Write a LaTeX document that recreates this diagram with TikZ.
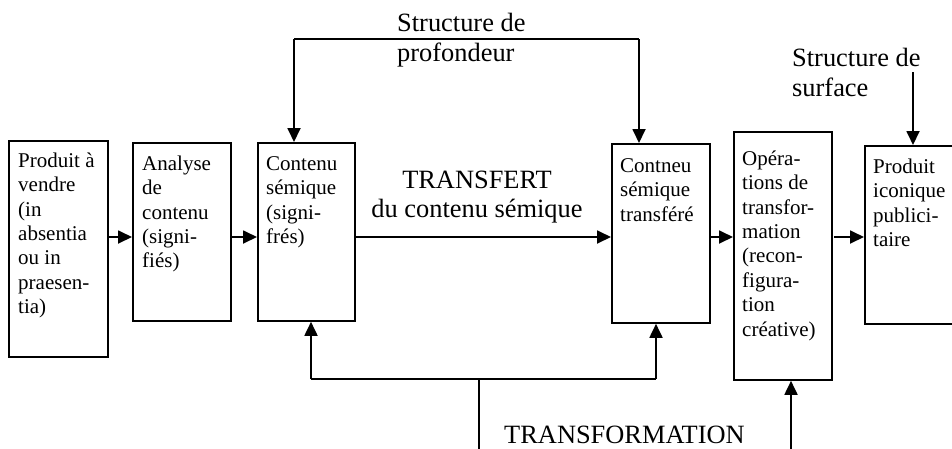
\documentclass[tikz,border=0pt]{standalone}
\usepackage{fontspec}
\setmainfont{Liberation Serif}
\usetikzlibrary{arrows.meta}
\newcommand\bfl{\rule{0pt}{16pt}}
\newcommand\lfl{\rule{0pt}{20pt}}
\tikzset{
  boxn/.style={draw, line width=1.8pt, inner sep=0pt},
  btxt/.style={anchor=north west, inner sep=0pt, align=left, font=\fontsize{21}{24.4}\selectfont},
  ltxt/.style={inner sep=0pt, align=left, font=\fontsize{26.4}{30}\selectfont},
  ln/.style={line width=1.8pt},
  arr/.style={line width=1.8pt, -{Triangle[length=14pt,width=13pt]}}
}
\begin{document}
\begin{tikzpicture}[x=1pt,y=-1pt]
\useasboundingbox (0,0) rectangle (952,448);
\clip (0,0) rectangle (952,448);
% boxes
\node[boxn, minimum width=99pt, minimum height=216pt, anchor=north west] (b1) at (8,140) {};
\node[boxn, minimum width=98pt, minimum height=178pt, anchor=north west] (b2) at (132,142) {};
\node[boxn, minimum width=97pt, minimum height=178pt, anchor=north west] (b3) at (257,142) {};
\node[boxn, minimum width=98pt, minimum height=179pt, anchor=north west] (b4) at (611,143) {};
\node[boxn, minimum width=98pt, minimum height=248pt, anchor=north west] (b5) at (733,131) {};
\node[boxn, minimum width=110pt, minimum height=178pt, anchor=north west] (b6) at (864,145) {};
% box texts
\node[btxt] (t1) at (18,151) {\bfl Produit à\\vendre\\(in\\absentia\\ou in\\praesen-\\tia)};
\node[btxt] (t2) at (142,154) {\bfl Analyse\\de\\contenu\\(signi-\\fiés)};
\node[btxt] (t3) at (266,154) {\bfl Contenu\\sémique\\(signi-\\frés)};
\node[btxt] (t4) at (620,156) {\bfl Contneu\\sémique\\transféré};
\node[btxt] (t5) at (742,149) {\bfl Opéra-\\tions de\\transfor-\\mation\\(recon-\\figura-\\tion\\créative)};
\node[btxt] (t6) at (873,157) {\bfl Produit\\iconique\\publici-\\taire};
% labels
\node[ltxt, anchor=north west] (lp) at (397,11) {\lfl Structure de\\profondeur};
\node[ltxt, anchor=north west] (ls) at (792,46) {\lfl Structure de\\surface};
\node[ltxt, anchor=base, align=center] (lt1) at (477,188) {TRANSFERT};
\node[ltxt, anchor=base, align=center] (lt2) at (477,217) {du contenu sémique};
\node[ltxt, anchor=base west] (lf) at (504,443) {TRANSFORMATION};
% horizontal arrows
\coordinate (row) at (0,237);
\draw[arr] (b1.east |- row) -- (b2.west |- row);
\draw[arr] (b2.east |- row) -- (b3.west |- row);
\draw[arr] (b3.east |- row) -- (b4.west |- row);
\draw[arr] (b4.east |- row) -- (b5.west |- row);
\coordinate (r6) at (834,237);
\draw[arr] (r6) -- (b6.west |- r6);
% top connector
\coordinate (tA) at (294,39);
\coordinate (tB) at (639,39);
\draw[ln] (tA) -- (tB);
\draw[arr] (tA) -- (tA |- b3.north);
\draw[arr] (tB) -- (tB |- b4.north);
% surface arrow
\coordinate (sT) at (913,72);
\draw[arr] (sT) -- (sT |- b6.north);
% bottom connector
\coordinate (bA) at (311,379);
\coordinate (bB) at (656,379);
\coordinate (bM) at (479,379);
\coordinate (bE) at (479,450);
\draw[ln] (bA) -- (bB);
\draw[ln] (bM) -- (bE);
\draw[arr] (bA) -- (bA |- b3.south);
\draw[arr] (bB) -- (bB |- b4.south);
\coordinate (bF) at (791,450);
\draw[arr] (bF) -- (bF |- b5.south);
\end{tikzpicture}
\end{document}
